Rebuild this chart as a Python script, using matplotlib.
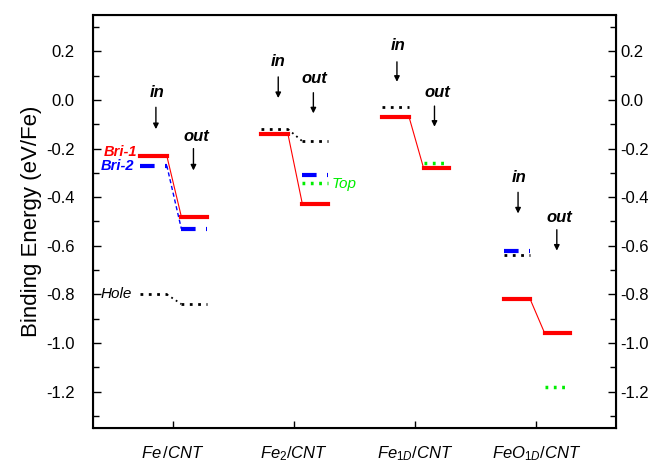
import numpy as np
import matplotlib
matplotlib.use("Agg")
from matplotlib import pyplot as plt
from matplotlib.ticker import MultipleLocator

plt.rcParams['font.family'] = ['Liberation Sans', 'DejaVu Sans']
plt.rcParams['mathtext.fontset'] = 'custom'
plt.rcParams['mathtext.rm'] = 'Liberation Sans'
plt.rcParams['mathtext.it'] = 'Liberation Sans:italic'

# datos
sistemas = [r"$\mathit{Fe\,/CNT}$", r"$\mathit{Fe_2/CNT}$",
            r"$\mathit{Fe_{1D}/CNT}$", r"$\mathit{FeO_{1D}/CNT}$"]
pos = np.array([1, 2, 3, 4])

# (in, out) por sistema; None = no hay nivel
rojo_in = [-0.23, -0.14, -0.07, -0.82]
rojo_out = [-0.48, -0.43, -0.28, -0.96]
azul_in = [-0.27, None, None, -0.62]
azul_out = [-0.53, -0.31, None, None]
negro_in = [-0.80, -0.12, -0.03, -0.64]
negro_out = [-0.84, -0.17, None, None]
verde_out = [None, -0.34, -0.26, -1.18]

# conexiones in->out
con_azul = [True, False, False, False]
con_negro = [True, True, False, False]

in_x0, in_x1 = -0.27, -0.05
out_x0, out_x1 = 0.07, 0.28

fig = plt.figure(figsize=(6.59, 4.62), dpi=100)
ax = fig.add_axes([0.141, 0.0736, 0.794, 0.894])

estilo = {
    'rojo': dict(color='red', lw=3, ls='-'),
    'azul': dict(color='blue', lw=3, ls=(0, (3.5, 2.5))),
    'negro': dict(color='black', lw=2, ls=(0, (1, 2))),
    'verde': dict(color='#00ee00', lw=2.5, ls=(0, (0.8, 1.6))),
}
conex = {
    'rojo': dict(color='red', lw=0.8, ls='-'),
    'azul': dict(color='blue', lw=1, ls=(0, (3, 2))),
    'negro': dict(color='black', lw=1.3, ls=(0, (1, 2))),
}

for i, x in enumerate(pos):
    for nombre, vin, vout in [('negro', negro_in, negro_out),
                              ('azul', azul_in, azul_out),
                              ('verde', [None] * 4, verde_out),
                              ('rojo', rojo_in, rojo_out)]:
        a, b = vin[i], vout[i]
        if a is not None:
            ax.plot([x + in_x0, x + in_x1], [a, a], **estilo[nombre])
        if b is not None:
            ax.plot([x + out_x0, x + out_x1], [b, b], **estilo[nombre])
        conectar = (nombre == 'rojo' or (nombre == 'azul' and con_azul[i])
                    or (nombre == 'negro' and con_negro[i]))
        if a is not None and b is not None and conectar:
            ax.plot([x + in_x1, x + out_x0], [a, b], **conex[nombre])

# flechas y etiquetas in/out: (x texto, y texto, x flecha, y0, y1)
flechas = [
    ((0.87, 0.03, 0.86, -0.03, -0.12), (1.19, -0.15, 1.17, -0.20, -0.29)),
    ((1.87, 0.16, 1.87, 0.095, 0.008), (2.17, 0.09, 2.16, 0.03, -0.055)),
    ((2.86, 0.225, 2.85, 0.157, 0.075), (3.18, 0.03, 3.16, -0.025, -0.11)),
    ((3.86, -0.317, 3.85, -0.38, -0.467), (4.19, -0.484, 4.17, -0.534, -0.62)),
]
for par in flechas:
    for (tx, ty, fx, y0, y1), txt in zip(par, ['in', 'out']):
        ax.text(tx, ty, txt, fontsize=12, fontweight='bold', style='italic',
                ha='center', va='center')
        ax.annotate('', xy=(fx, y1), xytext=(fx, y0),
                    arrowprops=dict(arrowstyle='-|>', color='black', lw=1,
                                    mutation_scale=8, shrinkA=0, shrinkB=0))

ax.text(0.71, -0.215, 'Bri-1', color='red', fontsize=10.5, fontweight='bold',
        style='italic', ha='right', va='center')
ax.text(0.68, -0.272, 'Bri-2', color='blue', fontsize=10.5, fontweight='bold',
        style='italic', ha='right', va='center')
ax.text(0.66, -0.80, 'Hole', color='black', fontsize=11, style='italic',
        ha='right', va='center')
ax.text(2.31, -0.345, 'Top', color='#00ee00', fontsize=11, style='italic',
        ha='left', va='center')

ax.set_xlim(0.34, 4.66)
ax.set_ylim(-1.35, 0.35)
ax.set_xticks(pos)
ax.set_xticklabels(sistemas, fontsize=12)
ax.yaxis.set_major_locator(MultipleLocator(0.2))
ax.yaxis.set_minor_locator(MultipleLocator(0.1))
ax.set_yticklabels([f"{v:.1f}" for v in ax.get_yticks()])
ax.tick_params(axis='y', direction='in', length=6, width=1, labelsize=12,
               pad=13)
ax.tick_params(axis='y', which='minor', direction='in', length=4, width=1)
ax.tick_params(axis='x', direction='in', length=5, width=1, pad=12)
ax.set_ylabel('Binding Energy (eV/Fe)', fontsize=16, labelpad=3)
for s in ax.spines.values():
    s.set_linewidth(1.5)

ax2 = ax.twinx()
ax2.set_ylim(ax.get_ylim())
ax2.yaxis.set_major_locator(MultipleLocator(0.2))
ax2.yaxis.set_minor_locator(MultipleLocator(0.1))
ax2.set_yticklabels([f"{v:.1f}" for v in ax2.get_yticks()])
ax2.tick_params(axis='y', direction='in', length=6, width=1, labelsize=12,
                pad=3)
ax2.tick_params(axis='y', which='minor', direction='in', length=4, width=1)

fig.savefig('out.png', dpi=100)
